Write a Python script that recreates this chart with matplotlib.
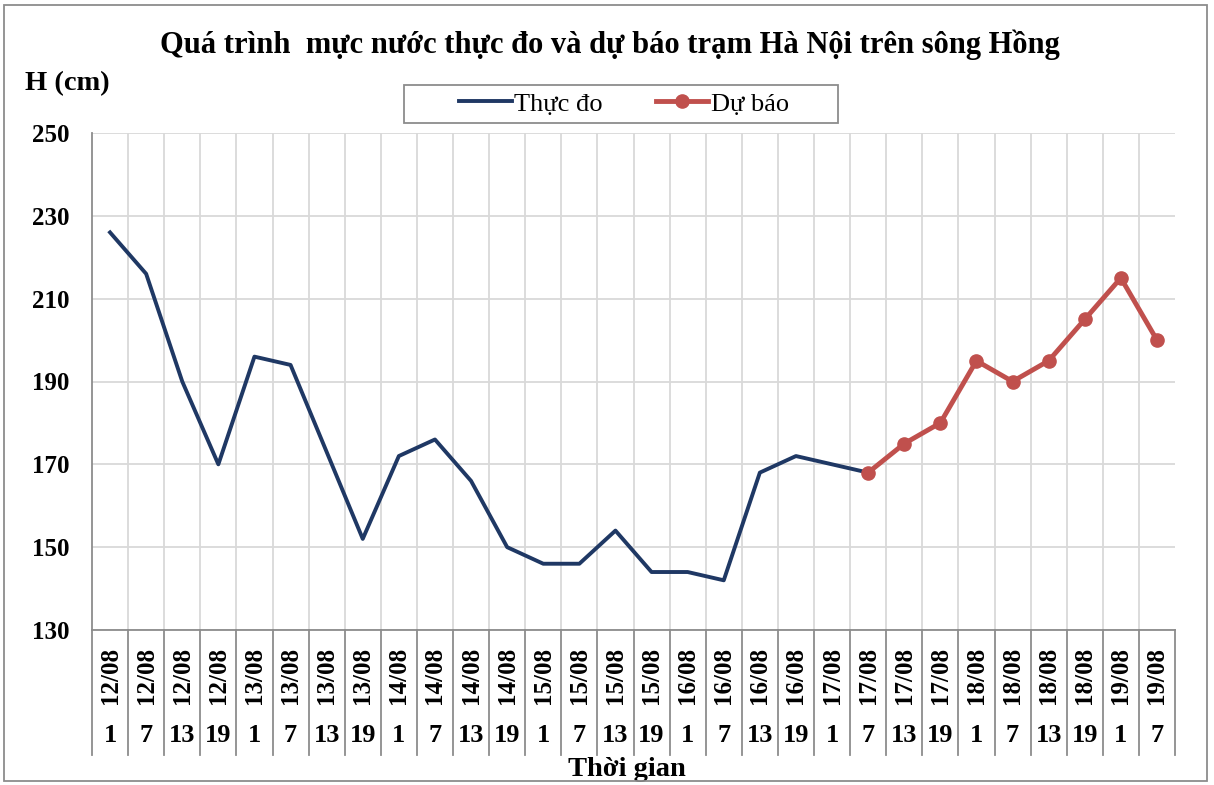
import matplotlib
matplotlib.use("Agg")
import matplotlib.pyplot as plt
from matplotlib.transforms import blended_transform_factory
from matplotlib.patches import Rectangle

# ===== DATA =====
dates = ["12/08"] * 4 + ["13/08"] * 4 + ["14/08"] * 4 + ["15/08"] * 4 + \
        ["16/08"] * 4 + ["17/08"] * 4 + ["18/08"] * 4 + ["19/08"] * 2
hours = ["1", "7", "13", "19"] * 7 + ["1", "7"]

observed = [226, 216, 190, 170, 196, 194, 173, 152, 172, 176, 166, 150,
            146, 146, 154, 144, 144, 142, 168, 172, 170, 168]
forecast = [168, 175, 180, 195, 190, 195, 205, 215, 200]
forecast_start = 21  # 17/08 7h

# ===== STYLE =====
plt.rcParams['font.family'] = ['Liberation Serif', 'DejaVu Serif']
navy = "#1f3864"
red = "#c0504d"
grid_c = "#d9d9d9"
axis_c = "#8c8c8c"

fig = plt.figure(figsize=(12.14, 7.85), dpi=100)
ax = fig.add_axes([92 / 1214, 1 - 630 / 785, 1083 / 1214, 497 / 785])

n = len(dates)
x_obs = list(range(len(observed)))
x_fc = list(range(forecast_start, forecast_start + len(forecast)))

ax.plot(x_obs, observed, color=navy, lw=2.8, label="Thực đo", zorder=3)
ax.plot(x_fc, forecast, color=red, lw=3.5, marker="o", markersize=9.5,
        label="Dự báo", zorder=4)

# ===== AXES =====
ax.set_xlim(-0.5, n - 0.5)
ax.set_ylim(130, 250)
ax.set_yticks(range(130, 251, 20))
ax.set_xticks([i + 0.5 for i in range(n - 1)])
ax.set_xticklabels([])
ax.tick_params(axis="x", length=0)
ax.tick_params(axis="y", length=0, pad=16, labelsize=18)
for lbl in ax.get_yticklabels():
    lbl.set_fontweight("bold")

ax.grid(True, color=grid_c, lw=1.3)
ax.set_axisbelow(True)
for side in ["top", "right"]:
    ax.spines[side].set_visible(False)
for side in ["left", "bottom"]:
    ax.spines[side].set_color(axis_c)
    ax.spines[side].set_linewidth(1.3)

# ===== CATEGORY LABELS (two levels) =====
tr = blended_transform_factory(ax.transData, ax.transAxes)
for b in range(n + 1):
    ax.plot([b - 0.5, b - 0.5], [0, -0.2515], transform=tr, color=axis_c,
            lw=1.3, clip_on=False)
for i in range(n):
    ax.text(i, -0.092, dates[i], transform=tr, rotation=90, ha="center",
            va="center", fontsize=18, fontweight="bold")
    ax.text(i, -0.213, hours[i], transform=tr, ha="center", va="center",
            fontsize=19, fontweight="bold")

ax.text(0.4935, -0.28, "Thời gian", transform=ax.transAxes, ha="center",
        va="center", fontsize=20.5, fontweight="bold")

# ===== TITLE / LABELS =====
fig.text(610 / 1214, 1 - 45 / 785, "Quá trình  mực nước thực đo và dự báo trạm Hà Nội trên sông Hồng",
         ha="center", va="center", fontsize=22, fontweight="bold")
fig.text(25 / 1214, 1 - 84 / 785, "H (cm)", ha="left", va="center",
         fontsize=20.5, fontweight="bold")

# legend: entries without frame, Excel-style box drawn separately
leg = fig.legend(loc="center", bbox_to_anchor=(624 / 1214, 1 - 104 / 785),
                 ncol=2, frameon=False, fontsize=19,
                 handlelength=2.0, columnspacing=2.0, handletextpad=0.1,
                 borderpad=0.2, borderaxespad=0)
fig.patches.append(Rectangle((404 / 1214, 1 - 123 / 785), 434 / 1214, 38 / 785,
                             transform=fig.transFigure, fill=False,
                             edgecolor=axis_c, lw=1.3))

# outer chart border
fig.patches.append(Rectangle((4 / 1214, 4 / 785), 1203 / 1214, 776 / 785,
                             transform=fig.transFigure, fill=False,
                             edgecolor=axis_c, lw=1.3))

fig.savefig("out.png", dpi=100)
